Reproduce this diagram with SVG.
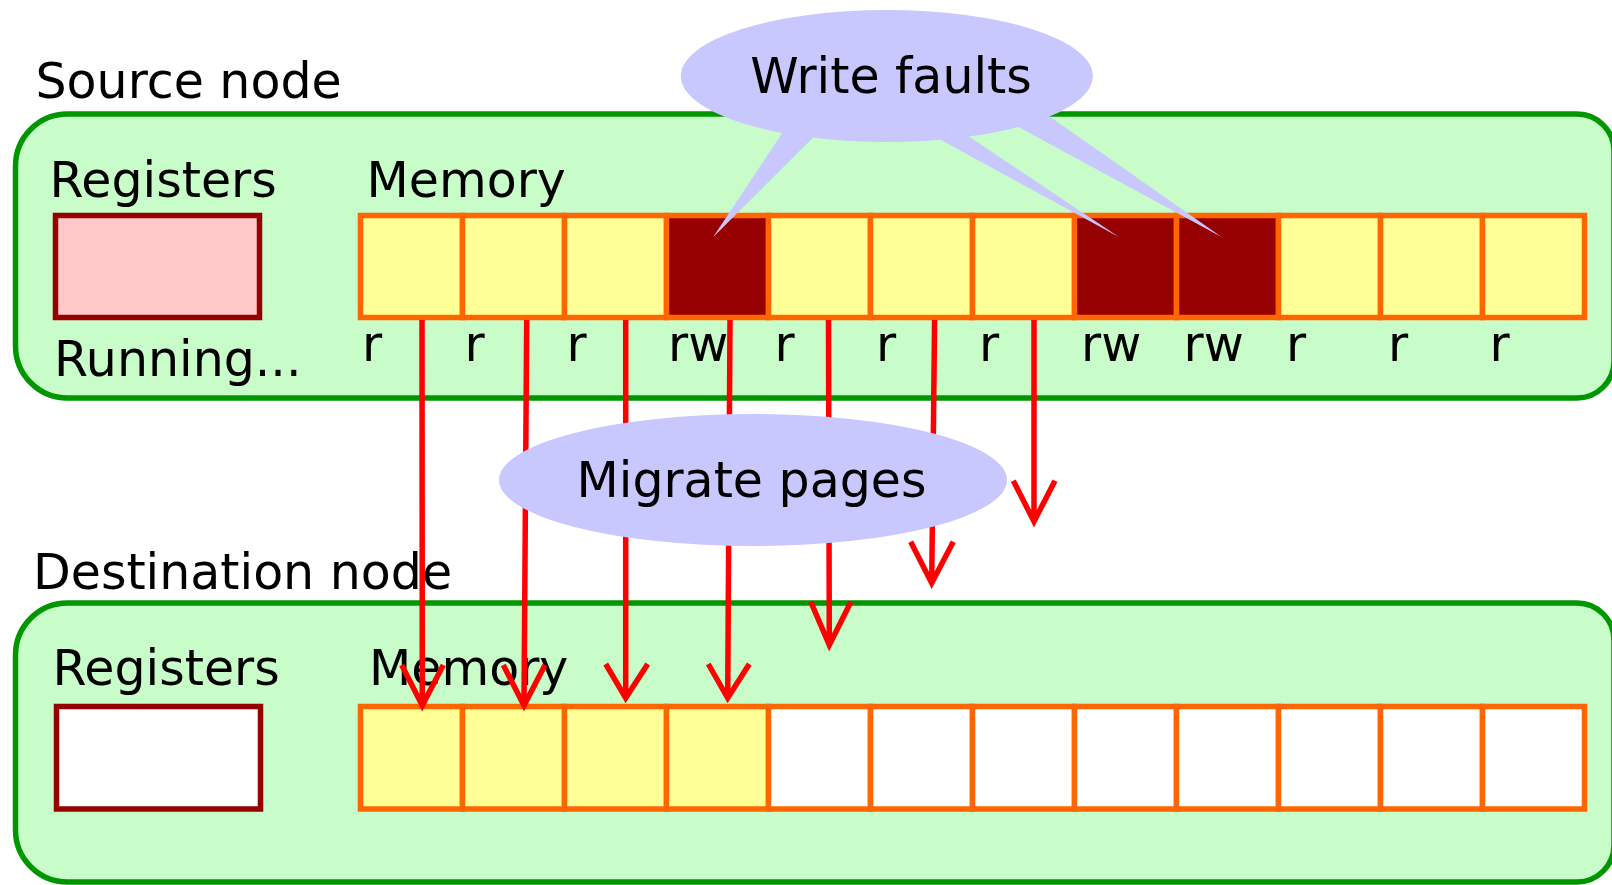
<svg xmlns="http://www.w3.org/2000/svg" width="1612" height="885" viewBox="0 0 1612 885">
  <style>
    text { font-family: "DejaVu Sans", "Liberation Sans", sans-serif; font-size: 49px; fill: #000; }
    .node { fill: #c8fcc8; stroke: #009600; stroke-width: 5.5; }
    .regs { stroke: #960000; stroke-width: 5.5; }
    .cell { stroke: #ff6600; stroke-width: 5.5; }
    .clean { fill: #ffff96; }
    .dirty { fill: #960000; }
    .empty { fill: #ffffff; }
    .mig { fill: none; stroke: #ff0000; stroke-width: 5.5; stroke-linejoin: miter; stroke-miterlimit: 10; }
    .bubble { fill: #c8c8ff; stroke: none; }
  </style>

  <!-- Source node -->
  <g id="source-node">
    <text x="35.5" y="98">Source node</text>
    <path class="node" d="M67.5 114 H1577 A37 37 0 0 1 1614 151 V361 A37 37 0 0 1 1577 398 H67.5 A52 52 0 0 1 15.5 346 V166 A52 52 0 0 1 67.5 114 Z"/>
    <text x="49.5" y="197">Registers</text>
    <rect class="regs" x="55.5" y="215.5" width="204" height="102" fill="#ffc8c8"/>
    <text x="54" y="376">Running...</text>
    <text x="366.5" y="197">Memory</text>
    <g id="source-memory">
      <rect class="cell clean" x="360.5" y="215.5" width="102" height="102"/>
      <rect class="cell clean" x="462.5" y="215.5" width="102" height="102"/>
      <rect class="cell clean" x="564.5" y="215.5" width="102" height="102"/>
      <rect class="cell dirty" x="666.5" y="215.5" width="102" height="102"/>
      <rect class="cell clean" x="768.5" y="215.5" width="102" height="102"/>
      <rect class="cell clean" x="870.5" y="215.5" width="102" height="102"/>
      <rect class="cell clean" x="972.5" y="215.5" width="102" height="102"/>
      <rect class="cell dirty" x="1074.5" y="215.5" width="102" height="102"/>
      <rect class="cell dirty" x="1176.5" y="215.5" width="102" height="102"/>
      <rect class="cell clean" x="1278.5" y="215.5" width="102" height="102"/>
      <rect class="cell clean" x="1380.5" y="215.5" width="102" height="102"/>
      <rect class="cell clean" x="1482.5" y="215.5" width="102" height="102"/>
    </g>
    <g id="page-access">
      <text x="362" y="361">r</text>
      <text x="464.5" y="361">r</text>
      <text x="566.5" y="361">r</text>
      <text x="668" y="361">rw</text>
      <text x="774.5" y="361">r</text>
      <text x="876" y="361">r</text>
      <text x="979" y="361">r</text>
      <text x="1081" y="361">rw</text>
      <text x="1183.5" y="361">rw</text>
      <text x="1286" y="361">r</text>
      <text x="1388" y="361">r</text>
      <text x="1489.5" y="361">r</text>
    </g>
  </g>

  <!-- Destination node -->
  <g id="destination-node">
    <text x="33" y="589">Destination node</text>
    <path class="node" d="M67.5 603 H1577 A37 37 0 0 1 1614 640 V845 A37 37 0 0 1 1577 882 H67.5 A52 52 0 0 1 15.5 830 V655 A52 52 0 0 1 67.5 603 Z"/>
    <text x="52.5" y="685">Registers</text>
    <rect class="regs" x="56.5" y="706.5" width="204" height="102.5" fill="#ffffff"/>
    <text x="369" y="685">Memory</text>
    <g id="destination-memory">
      <rect class="cell clean" x="360.5" y="706.5" width="102" height="102.5"/>
      <rect class="cell clean" x="462.5" y="706.5" width="102" height="102.5"/>
      <rect class="cell clean" x="564.5" y="706.5" width="102" height="102.5"/>
      <rect class="cell clean" x="666.5" y="706.5" width="102" height="102.5"/>
      <rect class="cell empty" x="768.5" y="706.5" width="102" height="102.5"/>
      <rect class="cell empty" x="870.5" y="706.5" width="102" height="102.5"/>
      <rect class="cell empty" x="972.5" y="706.5" width="102" height="102.5"/>
      <rect class="cell empty" x="1074.5" y="706.5" width="102" height="102.5"/>
      <rect class="cell empty" x="1176.5" y="706.5" width="102" height="102.5"/>
      <rect class="cell empty" x="1278.5" y="706.5" width="102" height="102.5"/>
      <rect class="cell empty" x="1380.5" y="706.5" width="102" height="102.5"/>
      <rect class="cell empty" x="1482.5" y="706.5" width="102" height="102.5"/>
    </g>
  </g>

  <!-- Page migration arrows -->
  <g id="connectors">
    <path class="mig" d="M422 320 L422.3 705.5 M401.7 665 L422.3 705.5 L443.3 665"/>
    <path class="mig" d="M526.7 320 L524 705.5 M503.3 665 L524 705.5 L545 665"/>
    <path class="mig" d="M625.7 320 L625.7 698 M605.7 664 L625.7 698 L647.7 664"/>
    <path class="mig" d="M730 320 L727.7 698 M708.3 664 L727.7 698 L749.3 664"/>
    <path class="mig" d="M828.5 320 L829.3 645 M810.7 601.7 L829.3 645 L851 601.7"/>
    <path class="mig" d="M934.6 320 L931.7 583 M910.7 541.7 L931.7 583 L953.3 541.7"/>
    <path class="mig" d="M1034 320 L1034 521.5 M1013.3 480.7 L1034 521.5 L1055 480.7"/>
  </g>

  <!-- Migrate pages label -->
  <g id="migrate-pages">
    <ellipse class="bubble" cx="753" cy="480" rx="254" ry="66"/>
    <text x="751.5" y="497" text-anchor="middle">Migrate pages</text>
  </g>

  <!-- Write faults callout -->
  <g id="write-faults">
    <ellipse class="bubble" cx="886.8" cy="76" rx="206" ry="66"/>
    <polygon class="bubble" points="783,132 713,237.3 813.2,137.5 800,110"/>
    <polygon class="bubble" points="940,139.5 1119.3,237.3 968.6,136.3 955,110"/>
    <polygon class="bubble" points="1017.5,126.5 1222,237.3 1049.6,116.5 1030,100"/>
    <text x="891" y="93" text-anchor="middle">Write faults</text>
  </g>
</svg>
